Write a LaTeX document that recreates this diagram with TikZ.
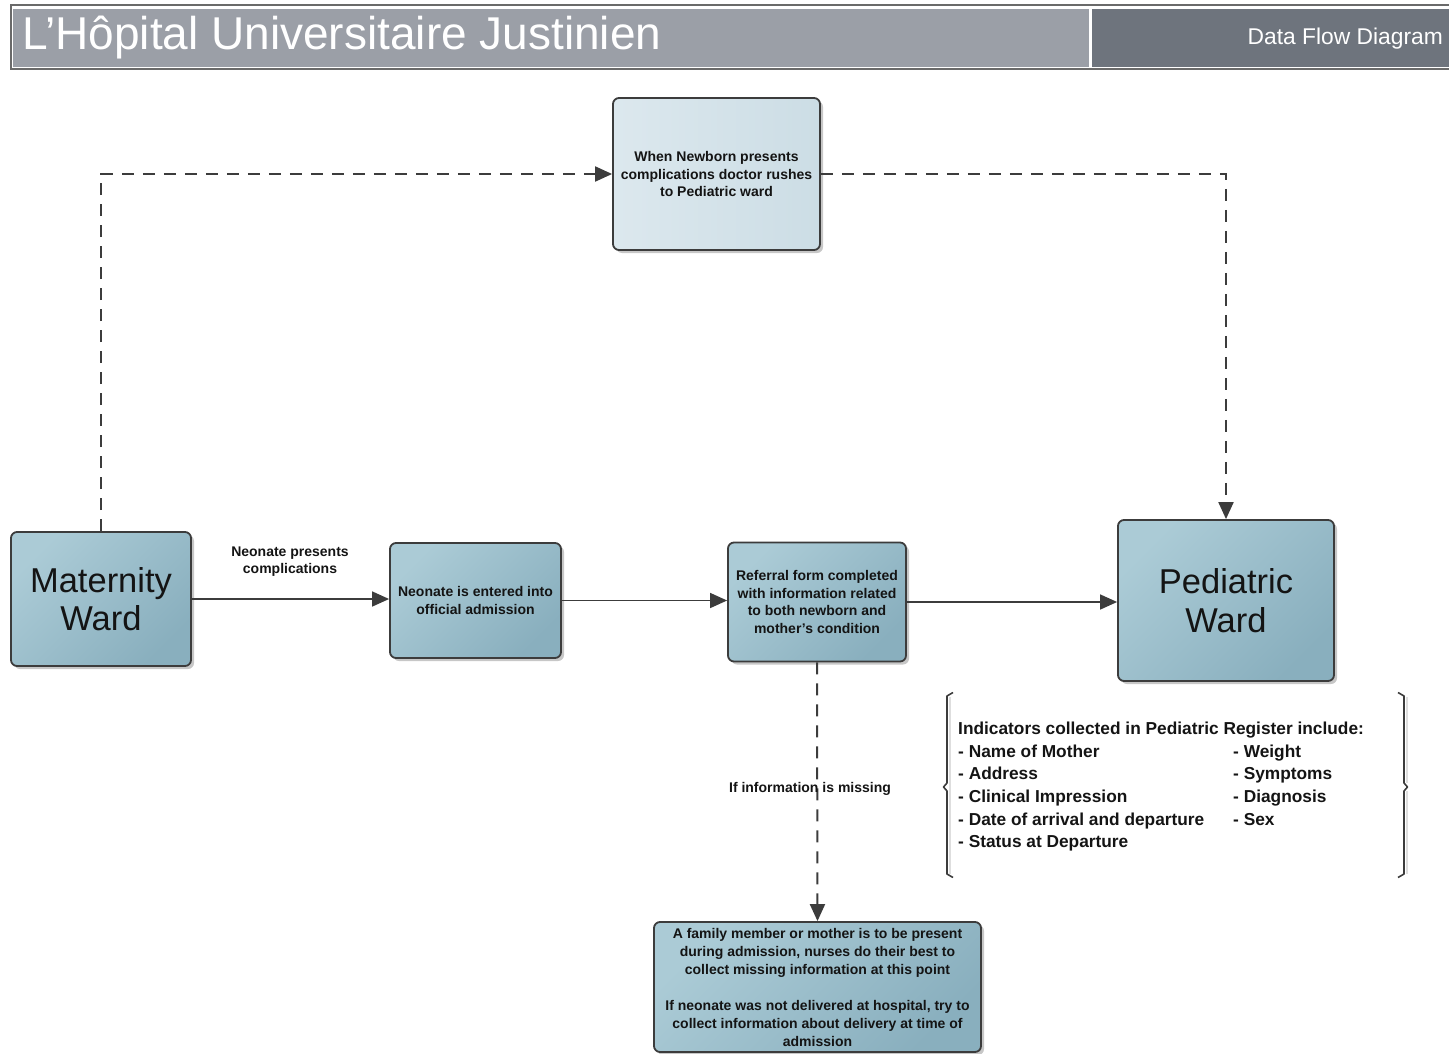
\documentclass[tikz,border=0pt]{standalone}
\usepackage{fontspec}
\setmainfont{Liberation Sans}
\usetikzlibrary{arrows.meta,shadows}
\definecolor{hdrL}{HTML}{9B9FA7}
\definecolor{hdrR}{HTML}{6E747D}
\definecolor{hdrLine}{HTML}{6A6A6A}
\definecolor{boxA}{HTML}{ABCBD6}
\definecolor{boxB}{HTML}{89AFBE}
\definecolor{paleA}{HTML}{DCE8EE}
\definecolor{paleB}{HTML}{CCDDE5}
\definecolor{edge}{HTML}{3C3C3C}
\definecolor{ink}{HTML}{141414}
\tikzset{
  procbox/.style={draw=edge, line width=1.8pt, rounded corners=6pt,
    left color=boxA, right color=boxB, shading angle=45,
    drop shadow={shadow xshift=3pt, shadow yshift=-3pt, fill=black!22, opacity=1},
    align=center, inner sep=0pt, text=ink},
  palebox/.style={procbox, left color=paleA, right color=paleB},
  smalltxt/.style={font=\fontsize{14}{17.5}\selectfont\bfseries},
  bigtxt/.style={font=\fontsize{34.5}{38.5}\selectfont},
  flow/.style={draw=edge, line width=1.5pt, -{Triangle[length=17pt,width=15pt]}},
  dflow/.style={draw=edge, line width=2pt, dash pattern=on 12pt off 9pt,
    -{Triangle[length=17pt,width=15pt]}},
  lbl/.style={font=\fontsize{14}{17}\selectfont\bfseries, align=center, text=ink, inner sep=0pt},
  indtxt/.style={font=\fontsize{17.3}{22.7}\selectfont\bfseries, anchor=base west, inner sep=0pt, text=ink},
  brk/.style={draw=edge, line width=1.6pt, line join=round},
  brkshadow/.style={draw=black!13, line width=1.6pt},
}
\begin{document}
\begin{tikzpicture}[x=1pt,y=-1pt]
\useasboundingbox (0,0) rectangle (1449,1054);
% header
\fill[hdrL] (13,9) rectangle (1089,67);
\fill[hdrR] (1092,9) rectangle (1449,67);
\draw[hdrLine, line width=2pt] (1449,5.5) -- (11,5.5) -- (11,69.5) -- (1449,69.5);
\node[anchor=base west, inner sep=0pt, text=white, font=\fontsize{46}{50}\selectfont] (title) at (22,50) {L’Hôpital Universitaire Justinien};
\node[anchor=base east, inner sep=0pt, text=white, font=\fontsize{22.8}{26}\selectfont] (dfd) at (1443,45) {Data Flow Diagram};

% boxes
\node[palebox, smalltxt, minimum width=207pt, minimum height=152pt] (top) at (716.5,174) {When Newborn presents\\complications doctor rushes\\to Pediatric ward};
\node[procbox, bigtxt, minimum width=180pt, minimum height=134pt] (mat) at (101,599) {Maternity\\Ward};
\node[procbox, smalltxt, minimum width=171pt, minimum height=115pt] (neo) at (475.5,600.5) {Neonate is entered into\\official admission};
\node[procbox, smalltxt, minimum width=178pt, minimum height=119pt] (ref) at (817,602) {Referral form completed\\with information related\\to both newborn and\\mother's condition};
\node[procbox, bigtxt, minimum width=216pt, minimum height=161pt] (ped) at (1226,600.5) {Pediatric\\Ward};
\node[procbox, font=\fontsize{14}{18}\selectfont\bfseries, minimum width=327pt, minimum height=130pt] (bot) at (817.5,987) {A family member or mother is to be present\\during admission, nurses do their best to\\collect missing information at this point\\[18pt]If neonate was not delivered at hospital, try to\\collect information about delivery at time of\\admission};

% connectors
\draw[dflow] (mat.north) |- (top.west);
\draw[dflow] (top.east) -| (ped.north);
\draw[flow] (mat.east) -- (mat.east -| neo.west);
\draw[flow] (neo.east) -- (neo.east -| ref.west);
\draw[flow] (ref.east) -- (ref.east -| ped.west);
\draw[dflow] (ref.south) -- (bot.north);

% labels
\node[lbl] (l1) at (290,561.5) {Neonate presents\\complications};
\node[lbl] (l2) at (810,789) {If information is missing};

% bracket
\draw[brkshadow] (950,697) -- (950,874);
\draw[brkshadow] (1407,697) -- (1407,783) (1407,791) -- (1407,874);
\draw[brk] (953,692.5) -- (947,696) -- (947,783) -- (943.5,787) -- (947,791) -- (947,874) -- (953,877.5);
\draw[brk] (1398,692.5) -- (1404,696) -- (1404,783) -- (1407.5,787) -- (1404,791) -- (1404,874) -- (1398,877.5);

\node[indtxt] (i0) at (958,734) {Indicators collected in Pediatric Register include:};
\node[indtxt] (i1) at (958,757) {- Name of Mother};
\node[indtxt] (i2) at (958,779.5) {- Address};
\node[indtxt] (i3) at (958,802) {- Clinical Impression};
\node[indtxt] (i4) at (958,825) {- Date of arrival and departure};
\node[indtxt] (i5) at (958,847.5) {- Status at Departure};
\node[indtxt] (j1) at (1233,757) {- Weight};
\node[indtxt] (j2) at (1233,779.5) {- Symptoms};
\node[indtxt] (j3) at (1233,802) {- Diagnosis};
\node[indtxt] (j4) at (1233,825) {- Sex};
\end{tikzpicture}
\end{document}
